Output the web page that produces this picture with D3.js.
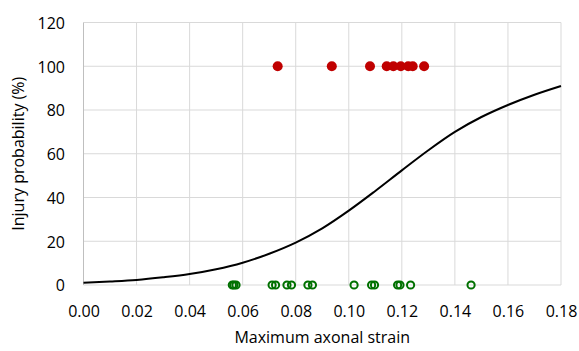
<!DOCTYPE html>
<html>
<head>
<meta charset="utf-8">
<script src="https://cdn.jsdelivr.net/npm/d3@7"></script>
<style>
  html, body { margin: 0; padding: 0; background: #fff; }
  svg text { font-family: "Open Sans", sans-serif; fill: #000; }
</style>
</head>
<body>
<svg id="chart" width="579" height="351"></svg>
<script>
// Injured cases (100%)
const injuredStrain = [0.0732, 0.0936, 0.1080, 0.1143, 0.1168, 0.1196, 0.1224, 0.1241, 0.1284];
const injuredValue = [100, 100, 100, 100, 100, 100, 100, 100, 100];
// Uninjured cases (0%)
const uninjuredStrain = [0.0561, 0.0567, 0.0575, 0.0711, 0.0724, 0.0767, 0.0784, 0.0846, 0.0863,
                         0.1020, 0.1086, 0.1097, 0.1184, 0.1193, 0.1233, 0.1461];
const uninjuredValue = [0, 0, 0, 0, 0, 0, 0, 0, 0, 0, 0, 0, 0, 0, 0, 0];
// Risk curve
const curveStrain = [0.00, 0.01, 0.02, 0.03, 0.04, 0.05, 0.06, 0.07, 0.08, 0.09,
                     0.10, 0.11, 0.12, 0.13, 0.14, 0.15, 0.16, 0.17, 0.18];
const curveProb = [1.05, 1.6, 2.3, 3.5, 5.0, 7.2, 10.2, 14.3, 19.4, 25.9,
                   34.0, 43.0, 52.4, 61.6, 70.0, 76.8, 82.3, 87.0, 91.0];
const xTicks = [0, 0.02, 0.04, 0.06, 0.08, 0.10, 0.12, 0.14, 0.16, 0.18];
const yTicks = [0, 20, 40, 60, 80, 100, 120];
const xTitle = "Maximum axonal strain";
const yTitle = "Injury probability (%)";

const svg = d3.select("#chart");
const pL = 83.5, pR = 561, pT = 22.5, pB = 285;
const x = d3.scaleLinear().domain([0, 0.18]).range([pL, pR]);
const y = d3.scaleLinear().domain([0, 120]).range([pB, pT]);
const FONT = "'Open Sans', sans-serif";
const FS = "16px";

// gridlines
svg.append("g").selectAll("line").data(xTicks.slice(1)).join("line")
  .attr("x1", d => x(d)).attr("x2", d => x(d)).attr("y1", pT).attr("y2", pB)
  .attr("stroke", "#d9d9d9").attr("stroke-width", 1);
svg.append("g").selectAll("line").data(yTicks).join("line")
  .attr("x1", pL).attr("x2", pR).attr("y1", d => y(d)).attr("y2", d => y(d))
  .attr("stroke", "#d9d9d9").attr("stroke-width", 1);
// left axis line
svg.append("line").attr("x1", pL).attr("x2", pL).attr("y1", pT).attr("y2", pB)
  .attr("stroke", "#bfbfbf").attr("stroke-width", 1);

// axes labels
const xAxis = d3.axisBottom(x).tickValues(xTicks).tickFormat(d3.format(".2f")).tickSize(0).tickPadding(0);
const gx = svg.append("g").attr("transform", `translate(0,${pB})`).call(xAxis);
gx.select(".domain").remove();
gx.selectAll("text").attr("y", 31.5).attr("dy", null).attr("font-size", FS)
  .style("font-family", FONT).attr("fill", "#000");

const yAxis = d3.axisLeft(y).tickValues(yTicks).tickFormat(d3.format("d")).tickSize(0).tickPadding(0);
const gy = svg.append("g").attr("transform", `translate(${pL},0)`).call(yAxis);
gy.select(".domain").remove();
gy.selectAll("text").attr("x", -18.5).attr("dy", "0.36em").attr("font-size", FS)
  .style("font-family", FONT).attr("fill", "#000");

// titles
svg.append("text").attr("x", (pL + pR) / 2).attr("y", 343)
  .attr("text-anchor", "middle").attr("font-size", FS).text(xTitle);
svg.append("text").attr("transform", `translate(24,${(pT + pB) / 2}) rotate(-90)`)
  .attr("text-anchor", "middle").attr("font-size", FS).text(yTitle);

// curve
const line = d3.line().x(d => x(d[0])).y(d => y(d[1])).curve(d3.curveCatmullRom);
svg.append("path").datum(curveStrain.map((s, i) => [s, curveProb[i]]))
  .attr("d", line).attr("fill", "none").attr("stroke", "#000").attr("stroke-width", 2);

// uninjured (open green)
svg.append("g").selectAll("circle").data(uninjuredStrain.map((s, i) => [s, uninjuredValue[i]])).join("circle")
  .attr("cx", d => x(d[0])).attr("cy", d => y(d[1])).attr("r", 3.6)
  .attr("fill", "none").attr("stroke", "#007000").attr("stroke-width", 2);

// injured (filled red)
svg.append("g").selectAll("circle").data(injuredStrain.map((s, i) => [s, injuredValue[i]])).join("circle")
  .attr("cx", d => x(d[0])).attr("cy", d => y(d[1])).attr("r", 5)
  .attr("fill", "#c00000");
</script>
</body>
</html>
